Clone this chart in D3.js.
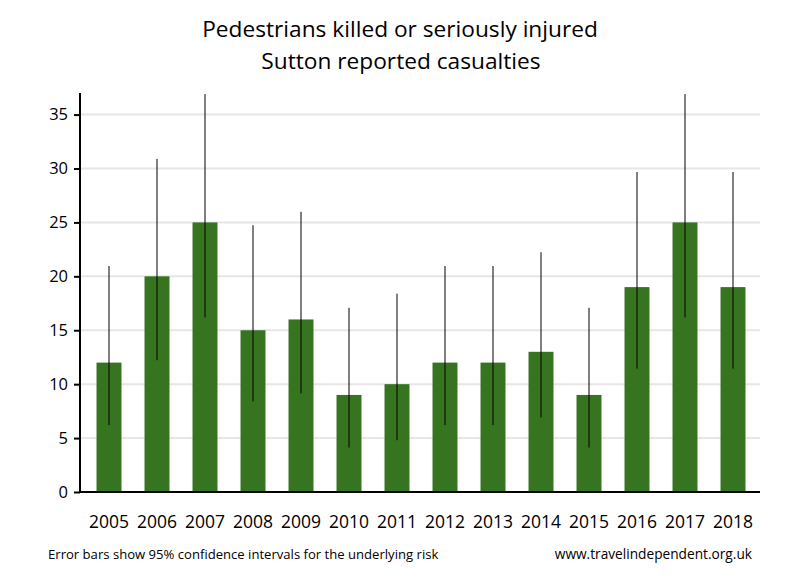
<!DOCTYPE html>
<html><head><meta charset="utf-8">
<script src="https://cdn.jsdelivr.net/npm/d3@7"></script>
<style>body{margin:0;background:#fff}svg{display:block}text{font-family:"Open Sans","Noto Sans",sans-serif}</style>
</head><body><svg id="c" width="800" height="580"></svg>
<script>
const years = ["2005","2006","2007","2008","2009","2010","2011","2012","2013","2014","2015","2016","2017","2018"];
const casualties = [12,20,25,15,16,9,10,12,12,13,9,19,25,19];
const ciLow = [6.20,12.22,16.18,8.40,9.15,4.12,4.80,6.20,6.20,6.92,4.12,11.44,16.18,11.44];
const ciHigh = [20.96,30.89,36.90,24.74,25.98,17.08,18.39,20.96,20.96,22.23,17.08,29.67,36.90,29.67];
const yTicks = [0,5,10,15,20,25,30,35];

(function(){
const svg = d3.select("#c");
const mLeft = 80, mRight = 760, mTop = 93, mBottom = 492;
const x = d3.scaleBand().domain(years).range([85, 757]).paddingInner(0.48).paddingOuter(0.24);
const y = d3.scaleLinear().domain([0, 37]).range([mBottom, mTop]);

svg.append("g").selectAll("line").data(yTicks.slice(1)).join("line")
  .attr("x1", mLeft).attr("x2", mRight).attr("y1", d => y(d)).attr("y2", d => y(d))
  .attr("stroke", "#e6e6e6").attr("stroke-width", 2);

svg.append("g").selectAll("rect").data(years).join("rect")
  .attr("x", d => x(d)).attr("width", x.bandwidth())
  .attr("y", (d,i) => y(casualties[i])).attr("height", (d,i) => y(0) - y(casualties[i]))
  .attr("fill", "#37741f");

svg.append("g").selectAll("line").data(years).join("line")
  .attr("x1", d => x(d) + x.bandwidth()/2).attr("x2", d => x(d) + x.bandwidth()/2)
  .attr("y1", (d,i) => y(ciLow[i])).attr("y2", (d,i) => y(Math.min(ciHigh[i], 37)))
  .attr("stroke", "#000").attr("stroke-width", 1);

const ya = svg.append("g").attr("transform", `translate(${mLeft},0)`)
  .call(d3.axisLeft(y).tickValues(yTicks).tickSize(6).tickPadding(6).tickSizeOuter(0));
ya.select(".domain").remove();
ya.selectAll(".tick line").attr("stroke", "#000").attr("stroke-width", 2);
ya.selectAll(".tick text").attr("font-size", 16.5).attr("fill", "#000").attr("font-family", "'Open Sans',sans-serif");

svg.append("line").attr("x1", mLeft).attr("x2", mLeft).attr("y1", mTop).attr("y2", mBottom + 1)
  .attr("stroke", "#000").attr("stroke-width", 2);
svg.append("line").attr("x1", mLeft - 1).attr("x2", mRight).attr("y1", mBottom).attr("y2", mBottom)
  .attr("stroke", "#000").attr("stroke-width", 2);

svg.append("g").selectAll("text").data(years).join("text")
  .attr("x", d => x(d) + x.bandwidth()/2).attr("y", 528)
  .attr("text-anchor", "middle").attr("font-size", 17.5).attr("fill", "#000").text(d => d);

svg.append("text").attr("x", 400).attr("y", 37).attr("text-anchor", "middle")
  .attr("font-size", 22.7).attr("fill", "#000").text("Pedestrians killed or seriously injured");
svg.append("text").attr("x", 401).attr("y", 69).attr("text-anchor", "middle")
  .attr("font-size", 22.7).attr("fill", "#000").text("Sutton reported casualties");

svg.append("text").attr("x", 48).attr("y", 559).attr("font-size", 13.1).attr("fill", "#000")
  .text("Error bars show 95% confidence intervals for the underlying risk");
svg.append("text").attr("x", 752).attr("y", 559).attr("text-anchor", "end").attr("font-size", 13.7).attr("fill", "#000")
  .text("www.travelindependent.org.uk");
})();
</script></body></html>
